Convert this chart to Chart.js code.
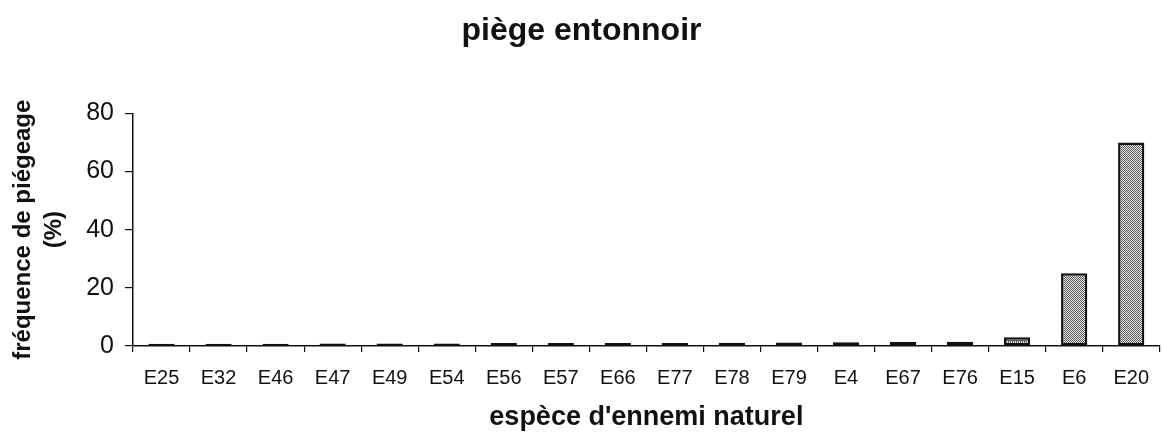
<!DOCTYPE html>
<html>
<head>
<meta charset="utf-8">
<script src="https://cdn.jsdelivr.net/npm/chart.js@4.4.1/dist/chart.umd.min.js"></script>
<style>
  html, body { margin: 0; padding: 0; background: #fff; }
  canvas { display: block; }
</style>
</head>
<body>
<canvas id="barChart" width="1163" height="434"></canvas>
<script>
// data
const species = ["E25", "E32", "E46", "E47", "E49", "E54", "E56", "E57", "E66",
  "E77", "E78", "E79", "E4", "E67", "E76", "E15", "E6", "E20"];
const frequency = [0.8, 0.8, 0.8, 0.9, 0.9, 0.9, 1.0, 1.0, 1.0,
  1.0, 1.1, 1.2, 1.3, 1.4, 1.5, 3.0, 25, 70];
const yTicks = [0, 20, 40, 60, 80];

const INK = "#111";
const FONT = "'Liberation Sans', Arial, Helvetica, sans-serif";

// stipple fill like the scanned print
function makePattern(kind) {
  var c = document.createElement("canvas");
  c.width = 4;
  c.height = 4;
  var g = c.getContext("2d");
  g.fillStyle = "#e8e8e8";
  g.fillRect(0, 0, 4, 4);
  g.fillStyle = "#5a5a5a";
  if (kind === "stripes") {
    g.fillRect(0, 0, 1, 4);
    g.fillRect(2, 0, 1, 4);
    g.fillRect(0, 0, 4, 1);
  } else {
    // checker of dark dots
    for (var y = 0; y < 4; y++) {
      for (var x = 0; x < 4; x++) {
        if ((x + y) % 2 === 0) g.fillRect(x, y, 1, 1);
      }
    }
  }
  return g.createPattern(c, "repeat");
}

var ctx = document.getElementById("barChart").getContext("2d");
var dots = makePattern("dots");
var stripes = makePattern("stripes");
var fills = species.map(function (s) {
  if (s === "E15") return stripes;
  if (s === "E6" || s === "E20") return dots;
  return INK;
});

var myChart = new Chart(ctx, {
  type: "bar",
  data: {
    labels: species,
    datasets: [
      {
        label: "fréquence de piégeage",
        data: frequency,
        backgroundColor: fills,
        borderColor: INK,
        borderWidth: 2.5,
        borderSkipped: false,
        categoryPercentage: 1,
        barPercentage: 0.46,
      },
    ],
  },
  options: {
    responsive: false,
    animation: false,
    devicePixelRatio: 1,
    layout: { padding: { left: 0, right: 0, top: 0, bottom: 0 } },
    plugins: {
      legend: { display: false },
      tooltip: { enabled: false },
      title: {
        display: true,
        text: "piège entonnoir",
        color: INK,
        font: { family: FONT, size: 32, weight: "bold" },
        padding: { top: 12, bottom: 63 },
      },
    },
    scales: {
      x: {
        afterFit: function (scale) { scale.height = 88; },
        border: { color: INK, width: 1.5 },
        grid: {
          offset: true,
          drawOnChartArea: false,
          drawTicks: true,
          tickLength: 6,
          color: INK,
          lineWidth: 1.2,
        },
        ticks: {
          color: INK,
          padding: 14,
          autoSkip: false,
          maxRotation: 0,
          font: { family: FONT, size: 20 },
        },
        title: {
          display: true,
          text: "espèce d'ennemi naturel",
          color: INK,
          font: { family: FONT, size: 27, weight: "bold" },
          padding: { top: 0, bottom: 0 },
        },
      },
      y: {
        min: 0,
        max: 80,
        afterFit: function (scale) { scale.width = 133; },
        afterBuildTicks: function (scale) {
          scale.ticks = yTicks.map(function (v) { return { value: v }; });
        },
        border: { color: INK, width: 1.5 },
        grid: {
          drawOnChartArea: false,
          drawTicks: true,
          tickLength: 8,
          color: INK,
          lineWidth: 1.2,
        },
        ticks: {
          color: INK,
          padding: 11,
          font: { family: FONT, size: 25 },
        },
        title: {
          display: true,
          text: ["fréquence de piégeage", "(%)"],
          color: INK,
          font: { family: FONT, size: 24, weight: "bold", lineHeight: 1.3 },
          padding: { top: 8, bottom: 0 },
        },
      },
    },
  },
});
</script>
</body>
</html>
